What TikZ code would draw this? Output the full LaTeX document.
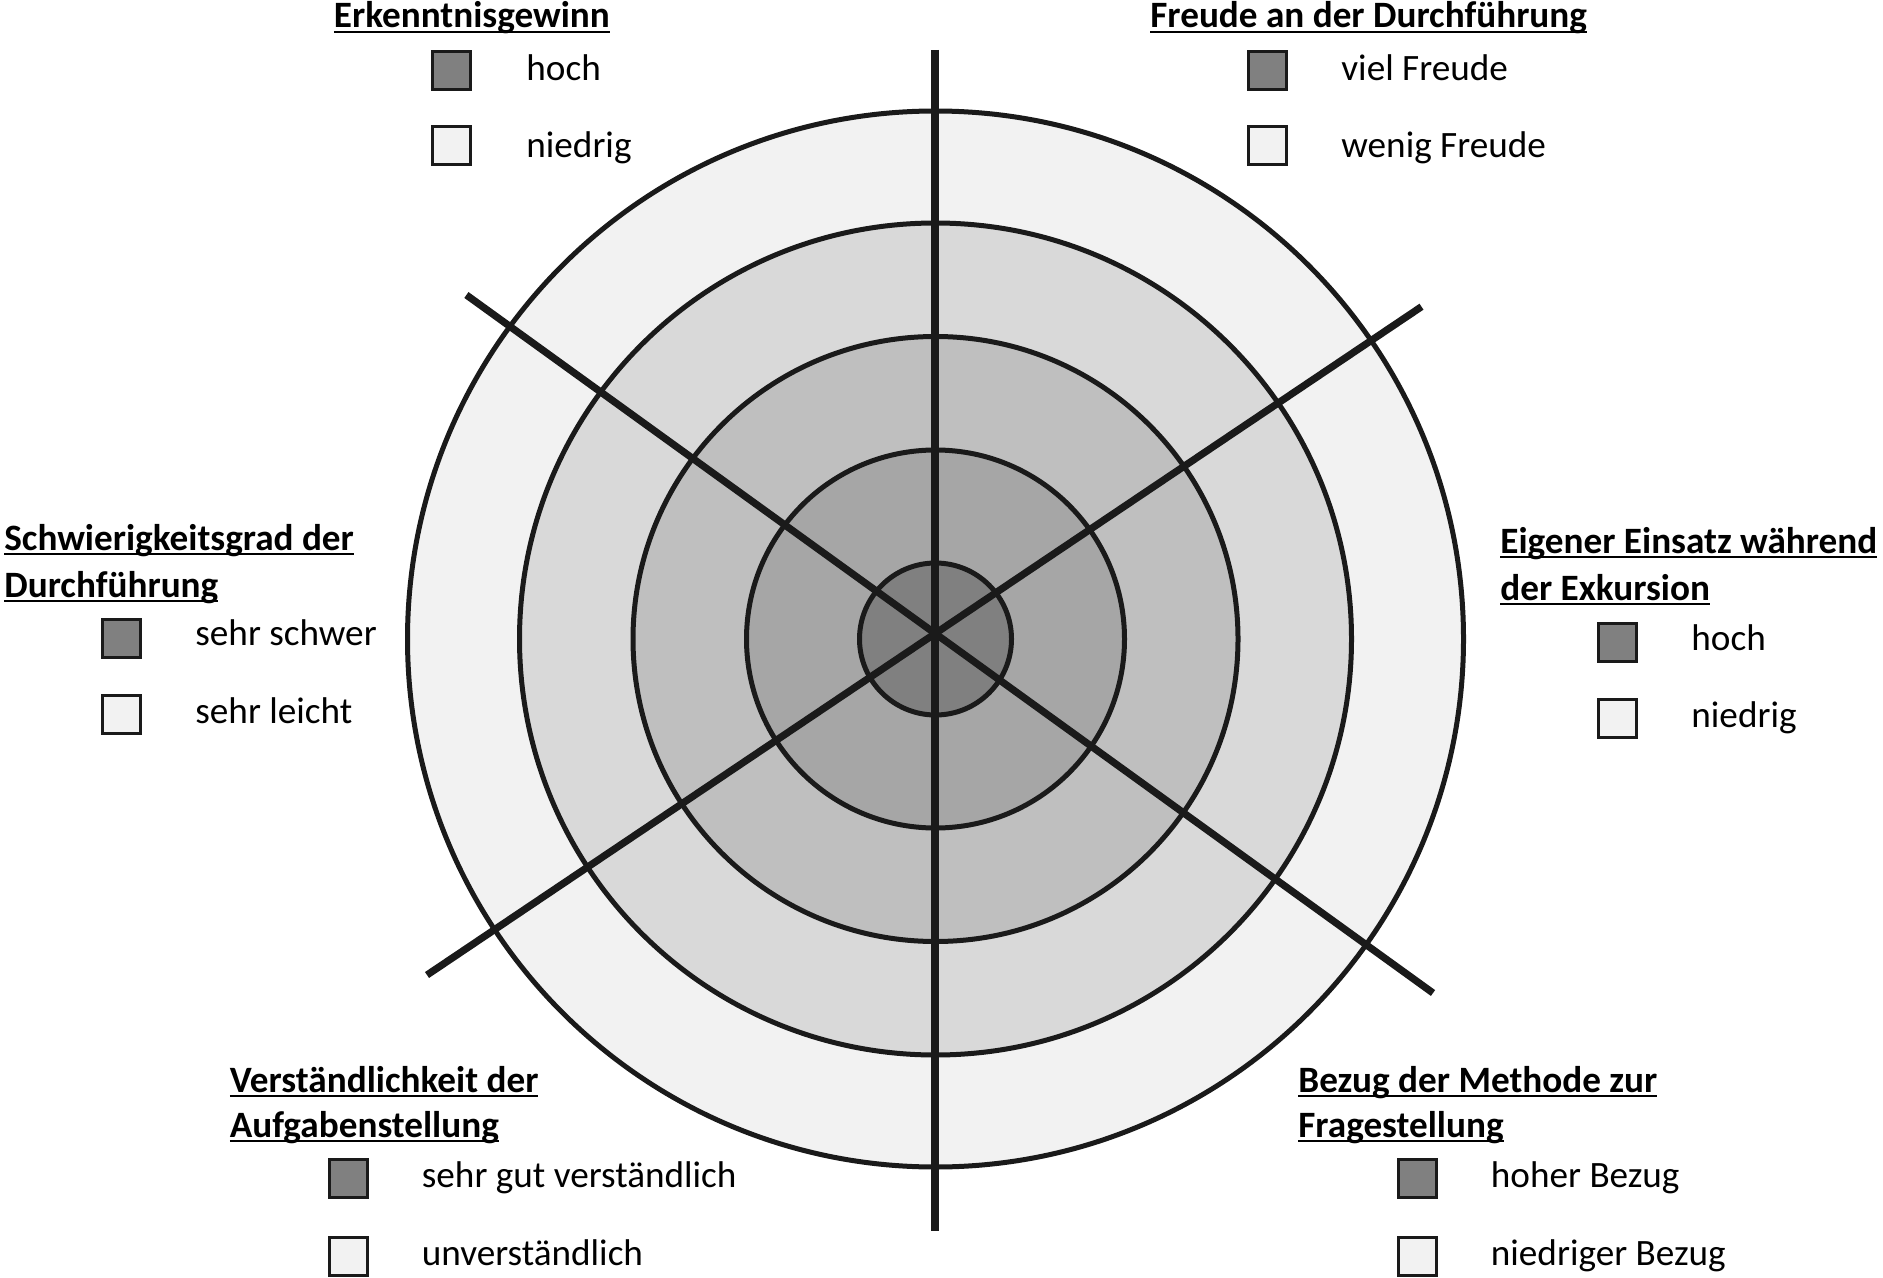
\documentclass[tikz,border=0pt]{standalone}
\usepackage{fontspec}
\setmainfont{Carlito}
\definecolor{rA}{HTML}{F2F2F2}
\definecolor{rB}{HTML}{D9D9D9}
\definecolor{rC}{HTML}{BFBFBF}
\definecolor{rD}{HTML}{A6A6A6}
\definecolor{rE}{HTML}{808080}
\definecolor{ink}{HTML}{1A1A1A}
\newcommand{\ulx}[1]{\setbox0\hbox{#1}\rlap{\rule[-0.14em]{\wd0}{0.065em}}\box0}
\begin{document}
\begin{tikzpicture}[x=0.5pt,y=-0.5pt]
\tikzset{
  ring/.style={draw=ink, line width=2.5pt},
  axis/.style={draw=ink, line width=3.6pt},
  keybox/.style={draw=ink, line width=1.5pt, minimum size=19pt, inner sep=0pt, anchor=north west},
  head/.style={anchor=base west, inner sep=0pt, font=\bfseries\fontsize{18.6}{22}\selectfont},
  lbl/.style={anchor=base west, inner sep=0pt, font=\fontsize{18.6}{22}\selectfont},
}
\useasboundingbox (0,0) rectangle (1883,1278);
\fill[white] (0,0) rectangle (1883,1278);
\coordinate (c) at (935.5,639);
\filldraw[ring, fill=rA] (c) circle[radius=264pt];
\filldraw[ring, fill=rB] (c) circle[radius=208pt];
\filldraw[ring, fill=rC] (c) circle[radius=151.25pt];
\filldraw[ring, fill=rD] (c) circle[radius=94.5pt];
\filldraw[ring, fill=rE] (c) circle[radius=38pt];
% axes
\coordinate (vt) at (935,50);
\coordinate (vb) at (935,1231);
\coordinate (ul) at (466.4,295);
\coordinate (lr) at (1433,993);
\coordinate (ur) at (1421.5,306.7);
\coordinate (ll) at (427,975);
\draw[axis] (vt) -- (vb);
\draw[axis] (ul) -- (lr);
\draw[axis] (ur) -- (ll);
% top left legend
\node[head] (hTL) at (333.5,28) {\ulx{Erkenntnisgewinn}};
\node[keybox, fill=rE] (sTL1) at (431,50) {};
\node[keybox, fill=rA] (sTL2) at (431,125) {};
\node[lbl] (tTL1) at (526,81) {hoch};
\node[lbl] (tTL2) at (526,158) {niedrig};
% top right legend
\node[head] (hTR) at (1150,28) {\ulx{Freude an der Durchführung}};
\node[keybox, fill=rE] (sTR1) at (1247,50) {};
\node[keybox, fill=rA] (sTR2) at (1247,125) {};
\node[lbl] (tTR1) at (1341,81) {viel Freude};
\node[lbl] (tTR2) at (1341,158) {wenig Freude};
% left legend
\node[head] (hL1) at (4,550) {\ulx{Schwierigkeitsgrad der}};
\node[head] (hL2) at (4,597) {\ulx{Durchführung}};
\node[keybox, fill=rE] (sL1) at (101,618) {};
\node[keybox, fill=rA] (sL2) at (101,694) {};
\node[lbl] (tL1) at (195,645) {sehr schwer};
\node[lbl] (tL2) at (195,723) {sehr leicht};
% right legend
\node[head] (hR1) at (1500,553) {\ulx{Eigener Einsatz während}};
\node[head] (hR2) at (1500,600) {\ulx{der Exkursion}};
\node[keybox, fill=rE] (sR1) at (1597,622) {};
\node[keybox, fill=rA] (sR2) at (1597,698) {};
\node[lbl] (tR1) at (1691,650) {hoch};
\node[lbl] (tR2) at (1691,727) {niedrig};
% bottom left legend
\node[head] (hBL1) at (229.5,1092) {\ulx{Verständlichkeit der}};
\node[head] (hBL2) at (229.5,1137) {\ulx{Aufgabenstellung}};
\node[keybox, fill=rE] (sBL1) at (328,1158) {};
\node[keybox, fill=rA] (sBL2) at (328,1236) {};
\node[lbl] (tBL1) at (421.5,1187) {sehr gut verständlich};
\node[lbl] (tBL2) at (421.5,1265) {unverständlich};
% bottom right legend
\node[head] (hBR1) at (1298,1092) {\ulx{Bezug der Methode zur}};
\node[head] (hBR2) at (1298,1137) {\ulx{Fragestellung}};
\node[keybox, fill=rE] (sBR1) at (1396.5,1158) {};
\node[keybox, fill=rA] (sBR2) at (1396.5,1236) {};
\node[lbl] (tBR1) at (1490.5,1187) {hoher Bezug};
\node[lbl] (tBR2) at (1490.5,1265) {niedriger Bezug};
\end{tikzpicture}
\end{document}
